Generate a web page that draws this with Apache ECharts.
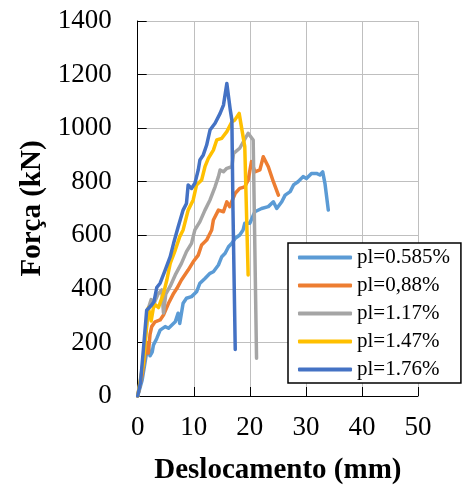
<!DOCTYPE html>
<html>
<head>
<meta charset="utf-8">
<script src="https://cdn.jsdelivr.net/npm/echarts@6/dist/echarts.min.js"></script>
<style>html,body{margin:0;padding:0;background:#fff}#c{width:471px;height:490px}</style>
</head>
<body>
<div id="c"></div>
<script>
var seriesNames = ['pl=0.585%', 'pl=0,88%', 'pl=1.17%', 'pl=1.47%', 'pl=1.76%'];
var seriesColors = ['#5B9BD5', '#ED7D31', '#A5A5A5', '#FFC000', '#4472C4'];
var xTicks = [0, 10, 20, 30, 40, 50];
var yTicks = [0, 200, 400, 600, 800, 1000, 1200, 1400];

var x1 = [0,0.8,1.5,1.9,2.2,2.6,2.8,3.4,4.0,4.9,5.5,6.1,6.7,7.2,7.5,8.1,8.7,9.6,10.5,11.1,12.0,12.3,12.9,13.5,14.4,15.0,15.6,16.2,16.8,17.4,18.2,18.8,19.1,20.0,20.9,22.1,23.3,24.2,24.8,25.7,26.3,27.2,27.8,28.6,29.5,30.1,31.0,31.9,32.5,33.0,33.4,34.0];
var y1 = [0,60,150,185,150,165,190,215,246,259,253,265,277,309,271,346,365,371,389,421,439,433,458,464,489,520,533,557,570,589,601,620,645,645,688,700,707,725,700,725,750,763,788,800,819,812,831,831,825,837,794,694];

var x2 = [0,0.8,1.6,1.9,2.2,2.5,3.1,4.0,4.6,5.5,6.4,7.0,7.8,9.0,9.9,10.8,11.4,12.3,13.2,13.5,14.4,15.3,15.9,16.4,17.4,18.2,19.1,19.7,20.3,20.9,21.8,22.4,23.3,24.2,25.1];
var y2 = [0,80,200,160,230,259,277,284,302,346,383,402,433,470,501,526,564,582,620,657,694,688,725,707,757,775,781,806,875,837,844,893,856,800,750];

var x3 = [0,1.0,1.8,2.4,3.0,3.6,4.3,4.6,5.0,5.8,6.7,7.8,8.7,9.6,10.2,11.1,12.0,12.9,13.8,14.4,14.7,15.3,15.9,16.8,17.1,18.2,19.7,20.6,21.2];
var y3 = [0,130,320,360,350,380,396,310,380,410,452,495,539,570,620,651,694,732,781,819,844,837,850,856,906,925,981,956,141];

var x4 = [0,1.0,1.9,2.4,2.8,3.2,3.7,4.6,5.2,5.8,6.7,7.5,8.1,9.0,9.9,10.5,11.4,12.0,12.6,13.5,14.1,15.0,15.9,16.8,17.3,18.1,19.1,19.7];
var y4 = [0,120,330,280,330,340,330,383,433,495,545,595,620,694,732,788,806,856,887,918,956,962,987,1024,1030,1055,931,452];

var x5 = [0,0.5,1.0,1.6,1.9,2.5,2.9,3.4,4.0,4.9,5.8,6.4,7.2,8.1,8.7,9.0,9.6,10.2,10.8,11.1,11.7,12.3,12.9,13.8,14.7,15.3,15.9,16.5,16.8,17.0,17.4];
var y5 = [0,50,170,320,327,340,352,405,421,470,520,570,630,694,719,788,775,794,844,881,900,937,993,1018,1055,1086,1167,1070,1030,690,174];

var xs = [x1, x2, x3, x4, x5];
var ys = [y1, y2, y3, y4, y5];

var FONT = "'Liberation Serif', 'Times New Roman', serif";
var series = seriesNames.map(function (name, i) {
  return {
    name: name,
    type: 'line',
    showSymbol: false,
    symbol: 'none',
    data: xs[i].map(function (x, j) { return [x, ys[i][j]]; }),
    lineStyle: { color: seriesColors[i], width: 3.5, cap: 'round', join: 'round' },
    itemStyle: { color: seriesColors[i] },
    z: 2 + i,
    animation: false
  };
});

var chart = echarts.init(document.getElementById('c'), null, { renderer: 'canvas' });
chart.setOption({
  animation: false,
  backgroundColor: '#fff',
  grid: { left: 137.7, right: 53, top: 21, bottom: 94, containLabel: false },
  xAxis: {
    type: 'value',
    min: xTicks[0], max: xTicks[xTicks.length - 1], interval: 10,
    name: 'Deslocamento (mm)',
    nameLocation: 'middle',
    nameGap: 60,
    nameTextStyle: { fontFamily: FONT, fontSize: 29, fontWeight: 'bold', color: '#000' },
    axisLine: { show: true, onZero: false, lineStyle: { color: '#000', width: 1 } },
    axisTick: { show: true, inside: true, length: 9, lineStyle: { color: '#000' } },
    axisLabel: { fontFamily: FONT, fontSize: 27, color: '#000', margin: 18, formatter: function (v) { return String(v); } },
    splitLine: { show: true, lineStyle: { color: '#bfbfbf', width: 1 } }
  },
  yAxis: {
    type: 'value',
    min: yTicks[0], max: yTicks[yTicks.length - 1], interval: 200,
    name: 'Força (kN)',
    nameLocation: 'middle',
    nameGap: 90,
    nameTextStyle: { fontFamily: FONT, fontSize: 29, fontWeight: 'bold', color: '#000' },
    axisLine: { show: true, lineStyle: { color: '#000', width: 1 } },
    axisTick: { show: true, inside: true, length: 9, lineStyle: { color: '#000' } },
    axisLabel: { fontFamily: FONT, fontSize: 27, color: '#000', margin: 26, formatter: function (v) { return String(v); } },
    splitLine: { show: true, lineStyle: { color: '#bfbfbf', width: 1 } }
  },
  legend: {
    orient: 'vertical',
    left: 288,
    top: 243,
    padding: [4, 11, 3, 10],
    itemGap: 7,
    itemWidth: 54,
    itemHeight: 4,
    icon: 'roundRect',
    backgroundColor: '#fff',
    borderColor: '#000',
    borderWidth: 1.5,
    borderRadius: 0,
    z: 20,
    data: seriesNames,
    textStyle: { fontFamily: FONT, fontSize: 21, lineHeight: 21, color: '#000', padding: 0 }
  },
  series: series
});
</script>
</body>
</html>
